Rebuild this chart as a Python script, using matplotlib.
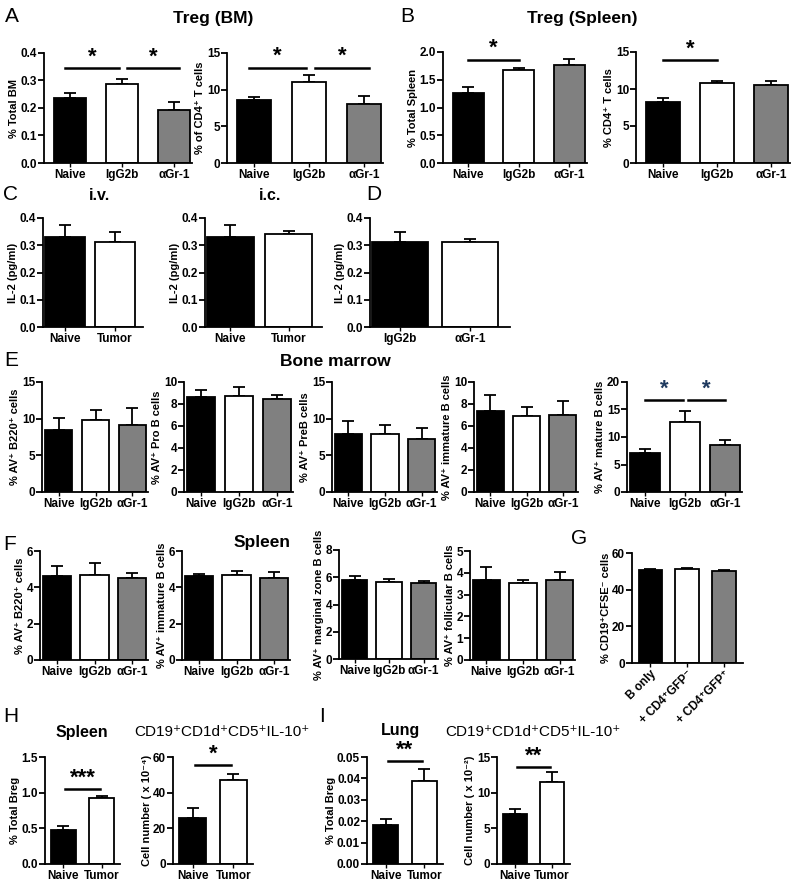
import matplotlib
matplotlib.use("Agg")
import matplotlib.pyplot as plt

plt.rcParams['font.family'] = ['Liberation Sans', 'DejaVu Sans']
plt.rcParams['font.weight'] = 'bold'

# cores das barras
PRETO, BRANCO, CINZA = '#000000', '#ffffff', '#808080'

grupos3 = ['Naive', 'IgG2b', 'αGr-1']
grupos_tumor = ['Naive', 'Tumor']
grupos_d = ['IgG2b', 'αGr-1']
grupos_g = ['B only', '+ CD4⁺GFP⁻', '+ CD4⁺GFP⁺']

# A - Treg (BM)
a1_val = [0.235, 0.288, 0.193]
a1_err = [0.018, 0.016, 0.028]
a2_val = [8.6, 11.1, 8.1]
a2_err = [0.45, 0.9, 1.0]
# B - Treg (Spleen)
b1_val = [1.26, 1.67, 1.76]
b1_err = [0.11, 0.05, 0.12]
b2_val = [8.2, 10.75, 10.6]
b2_err = [0.6, 0.3, 0.5]
# C / D - IL-2
c1_val = [0.332, 0.311]
c1_err = [0.043, 0.036]
c2_val = [0.332, 0.341]
c2_err = [0.043, 0.013]
d_val = [0.311, 0.311]
d_err = [0.036, 0.012]
# E - Bone marrow
e1_val = [8.5, 9.8, 9.2]
e1_err = [1.6, 1.4, 2.2]
e2_val = [8.6, 8.7, 8.45]
e2_err = [0.7, 0.8, 0.4]
e3_val = [7.95, 7.86, 7.27]
e3_err = [1.8, 1.3, 1.5]
e4_val = [7.35, 6.9, 7.0]
e4_err = [1.45, 0.85, 1.25]
e5_val = [7.15, 12.7, 8.5]
e5_err = [0.6, 2.1, 0.9]
# F - Spleen
f1_val = [4.63, 4.7, 4.53]
f1_err = [0.55, 0.65, 0.25]
f2_val = [4.6, 4.66, 4.53]
f2_err = [0.15, 0.24, 0.3]
f3_val = [5.8, 5.63, 5.56]
f3_err = [0.3, 0.25, 0.18]
f4_val = [3.69, 3.54, 3.69]
f4_err = [0.58, 0.15, 0.35]
# G
g_val = [50.9, 51.3, 50.0]
g_err = [0.6, 0.7, 0.9]
# H - Spleen Breg
h1_val = [0.475, 0.93]
h1_err = [0.06, 0.025]
h2_val = [26.0, 47.3]
h2_err = [5.3, 3.3]
# I - Lung Breg
i1_val = [0.0181, 0.0388]
i1_err = [0.0028, 0.0058]
i2_val = [6.95, 11.5]
i2_err = [0.7, 1.4]

W, H = 800, 881
fig = plt.figure(figsize=(W / 100, H / 100), dpi=100)


def eixo(l, t, r, b):
    return fig.add_axes([l / W, 1 - b / H, (r - l) / W, (b - t) / H])


def painel(caixa, valores, erros, cores, rotulos, ylim, yticks, ylabel, xlim, largura,
           fmt='%g', rot=0, sig=(), cor_sig='black'):
    ax = eixo(*caixa)
    x = list(range(len(valores)))
    ax.bar(x, valores, width=largura, color=cores, edgecolor='black', linewidth=1.3, zorder=2)
    ax.errorbar(x, valores, yerr=[[0] * len(valores), erros], fmt='none', ecolor='black',
                elinewidth=1.3, capsize=4, capthick=1.3, zorder=1)
    ax.set_xlim(*xlim)
    ax.set_ylim(*ylim)
    ax.set_yticks(yticks)
    ax.set_yticklabels([fmt % v for v in yticks], fontsize=8.5, fontweight='bold')
    ax.set_xticks(x)
    if rot:
        ax.set_xticklabels(rotulos, fontsize=8.5, fontweight='bold', rotation=rot,
                           ha='right', rotation_mode='anchor')
    else:
        ax.set_xticklabels(rotulos, fontsize=8.5, fontweight='bold')
    ax.set_ylabel(ylabel, fontsize=8, fontweight='bold', labelpad=1)
    for s in ['top', 'right']:
        ax.spines[s].set_visible(False)
    for s in ['left', 'bottom']:
        ax.spines[s].set_linewidth(1.3)
    ax.tick_params(axis='y', length=4, width=1.3, pad=1)
    ax.tick_params(axis='x', length=3, width=1.0, pad=1)
    for x0, x1, y, txt in sig:
        ax.plot([x0, x1], [y, y], color='black', lw=1.8, clip_on=False)
        ax.annotate(txt, ((x0 + x1) / 2, y), xytext=(0, 0.5), textcoords='offset points',
                    ha='center', va='bottom', fontsize=16, color=cor_sig,
                    annotation_clip=False)
    return ax


c3 = [PRETO, BRANCO, CINZA]
c2 = [PRETO, BRANCO]
xl_ab = (-0.5, 2.35)
xl_ef = (-0.45, 2.42)
xl_c = (-0.43, 1.57)
xl_h = (-0.48, 1.48)

# linha A / B
painel((44, 53, 192, 163), a1_val, a1_err, c3, grupos3, (0, 0.4), [0, 0.1, 0.2, 0.3, 0.4],
       '% Total BM', xl_ab, 0.62, '%.1f', sig=[(-0.1, 0.95, 0.345, '*'), (1.1, 2.1, 0.345, '*')])
painel((227, 53, 383, 163), a2_val, a2_err, c3, grupos3, (0, 15), [0, 5, 10, 15],
       '% of CD4⁺ T cells', xl_ab, 0.62, sig=[(-0.1, 0.95, 13.0, '*'), (1.1, 2.1, 13.0, '*')])
painel((443, 52, 587, 163), b1_val, b1_err, c3, grupos3, (0, 2.0), [0, 0.5, 1.0, 1.5, 2.0],
       '% Total Spleen', xl_ab, 0.62, '%.1f', sig=[(0.0, 1.0, 1.86, '*')])
painel((636, 52, 790, 163), b2_val, b2_err, c3, grupos3, (0, 15), [0, 5, 10, 15],
       '% CD4⁺ T cells', xl_ab, 0.62, sig=[(0.0, 1.0, 13.9, '*')])

# linha C / D
painel((43, 218, 143, 327), c1_val, c1_err, c2, grupos_tumor, (0, 0.4), [0, 0.1, 0.2, 0.3, 0.4],
       'IL-2 (pg/ml)', xl_c, 0.8, '%.1f')
painel((205, 218, 322, 327), c2_val, c2_err, c2, grupos_tumor, (0, 0.4), [0, 0.1, 0.2, 0.3, 0.4],
       'IL-2 (pg/ml)', xl_c, 0.8, '%.1f')
painel((370, 218, 510, 327), d_val, d_err, c2, grupos_d, (0, 0.4), [0, 0.1, 0.2, 0.3, 0.4],
       'IL-2 (pg/ml)', xl_c, 0.8, '%.1f')

# linha E
painel((42, 382, 148, 492), e1_val, e1_err, c3, grupos3, (0, 15), [0, 5, 10, 15],
       '% AV⁺ B220⁺ cells', xl_ef, 0.75)
painel((184, 382, 293, 492), e2_val, e2_err, c3, grupos3, (0, 10), [0, 2, 4, 6, 8, 10],
       '% AV⁺ Pro B cells', xl_ef, 0.75)
painel((332, 382, 437, 492), e3_val, e3_err, c3, grupos3, (0, 15), [0, 5, 10, 15],
       '% AV⁺ PreB cells', xl_ef, 0.75)
painel((474, 382, 578, 492), e4_val, e4_err, c3, grupos3, (0, 10), [0, 2, 4, 6, 8, 10],
       '% AV⁺ immature B cells', xl_ef, 0.75)
painel((627, 382, 742, 492), e5_val, e5_err, c3, grupos3, (0, 20), [0, 5, 10, 15, 20],
       '% AV⁺ mature B cells', xl_ef, 0.75,
       sig=[(0.0, 0.95, 16.7, '*'), (1.08, 2.0, 16.7, '*')], cor_sig='#1f3a5f')

# linha F / G
painel((40, 551, 148, 660), f1_val, f1_err, c3, grupos3, (0, 6), [0, 2, 4, 6],
       '% AV⁺ B220⁺ cells', xl_ef, 0.75)
painel((182, 551, 290, 660), f2_val, f2_err, c3, grupos3, (0, 6), [0, 2, 4, 6],
       '% AV⁺ immature B cells', xl_ef, 0.75)
painel((339, 550, 438, 659), f3_val, f3_err, c3, grupos3, (0, 8), [0, 2, 4, 6, 8],
       '% AV⁺ marginal zone B cells', xl_ef, 0.75)
painel((470, 551, 575, 660), f4_val, f4_err, c3, grupos3, (0, 5), [0, 1, 2, 3, 4, 5],
       '% AV⁺ follicular B cells', xl_ef, 0.75)
painel((632, 553, 743, 663), g_val, g_err, c3, grupos_g, (0, 60), [0, 20, 40, 60],
       '% CD19⁺CFSE⁻ cells', (-0.5, 2.52), 0.64, rot=45)

# linha H / I
painel((45, 757, 120, 864), h1_val, h1_err, c2, grupos_tumor, (0, 1.5), [0, 0.5, 1.0, 1.5],
       '% Total Breg', xl_h, 0.65, '%.1f', sig=[(0.05, 0.95, 1.05, '***')])
painel((173, 757, 253, 864), h2_val, h2_err, c2, grupos_tumor, (0, 60), [0, 20, 40, 60],
       'Cell number ( x 10⁻⁴)', xl_h, 0.65, sig=[(0.05, 0.95, 55.4, '*')])
painel((367, 757, 443, 864), i1_val, i1_err, c2, grupos_tumor, (0, 0.05),
       [0, 0.01, 0.02, 0.03, 0.04, 0.05], '% Total Breg', xl_h, 0.65, '%.2f',
       sig=[(0.05, 0.95, 0.048, '**')])
painel((497, 757, 570, 864), i2_val, i2_err, c2, grupos_tumor, (0, 15), [0, 5, 10, 15],
       'Cell number ( x 10⁻²)', xl_h, 0.65, sig=[(0.05, 0.95, 13.6, '**')])


def texto(x, y, s, tam, peso='bold'):
    fig.text(x / W, 1 - y / H, s, fontsize=tam, fontweight=peso, ha='center', va='center')


# letras e títulos
for letra, x, y in [('A', 12, 16), ('B', 407, 16), ('C', 11, 194), ('D', 374, 195),
                    ('E', 11, 361), ('F', 10, 545), ('G', 579, 538), ('H', 11, 717),
                    ('I', 322, 717)]:
    texto(x, y, letra, 15, 'normal')

texto(213, 18, 'Treg (BM)', 12.5)
texto(582, 19, 'Treg (Spleen)', 12.5)
texto(100, 196, 'i.v.', 11.5)
texto(270, 196, 'i.c.', 11.5)
texto(335, 361, 'Bone marrow', 12.5)
texto(262, 543, 'Spleen', 12.5)
texto(82, 732, 'Spleen', 11.5)
texto(222, 732, 'CD19⁺CD1d⁺CD5⁺IL-10⁺', 11, 'normal')
texto(400, 731, 'Lung', 11.5)
texto(533, 732, 'CD19⁺CD1d⁺CD5⁺IL-10⁺', 11, 'normal')

fig.savefig('out.png', dpi=100)
